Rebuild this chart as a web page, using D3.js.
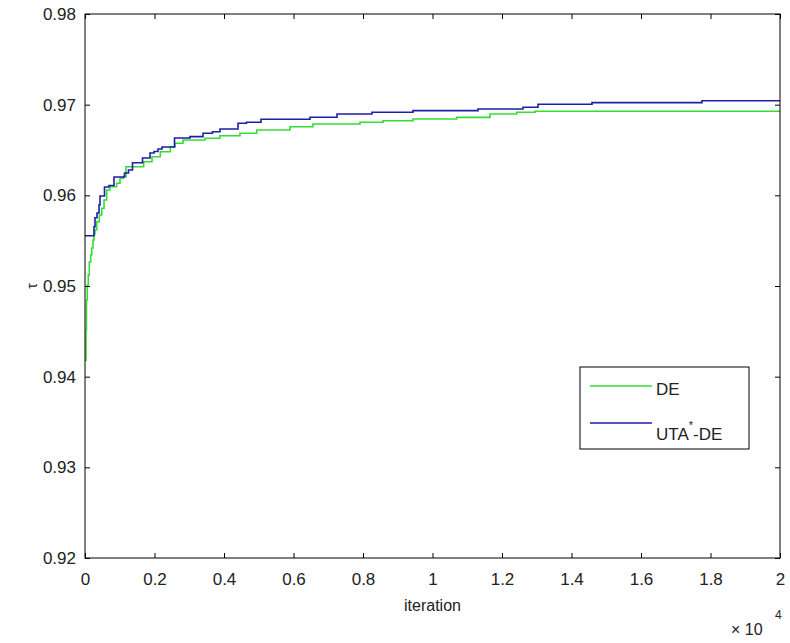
<!DOCTYPE html>
<html><head><meta charset="utf-8">
<script src="https://cdn.jsdelivr.net/npm/d3@7"></script>
<style>body{margin:0;background:#fff}</style>
</head><body>
<svg id="c" width="790" height="643"></svg>
<script>
const deIter = [0,29,43,66,95,124,164,193,230,259,288,337,412,481,547,624,719,912,1007,1102,1180,1689,1928,2167,2455,2590,2820,3453,3885,4460,4941,5899,6561,7914,8576,9439,10696,11655,12424,12950,20000];
const deTau  = [0.9418,0.94515,0.94846,0.95011,0.95121,0.95265,0.95342,0.95419,0.95507,0.95574,0.95618,0.95709,0.95783,0.95857,0.95949,0.96059,0.96095,0.96133,0.96188,0.96206,0.96316,0.96371,0.96426,0.96481,0.96536,0.96574,0.9661,0.96629,0.96658,0.96684,0.96721,0.96757,0.96787,0.96806,0.96823,0.96842,0.9686,0.96897,0.96916,0.96927,0.96927];
const utaIter = [0,259,288,345,403,432,561,691,835,1137,1252,1367,1655,1871,1986,2101,2216,2576,3022,3396,3669,3885,4403,4647,5065,6475,7252,8259,9439,11309,12604,13036,14590,17755,20000];
const utaTau  = [0.95555,0.95654,0.95753,0.95805,0.95893,0.95993,0.96092,0.96109,0.96202,0.96246,0.9628,0.9636,0.96412,0.96467,0.96483,0.96511,0.96533,0.96632,0.96647,0.96684,0.96702,0.96732,0.96795,0.96806,0.96839,0.96861,0.96897,0.96916,0.96934,0.96952,0.96971,0.97004,0.97022,0.97044,0.97044];
const xTicks = [0,2000,4000,6000,8000,10000,12000,14000,16000,18000,20000];
const xTickLabels = ["0","0.2","0.4","0.6","0.8","1","1.2","1.4","1.6","1.8","2"];
const yTicks = [0.92,0.93,0.94,0.95,0.96,0.97,0.98];
const yTickLabels = ["0.92","0.93","0.94","0.95","0.96","0.97","0.98"];
const seriesNames = ["DE","UTA*-DE"];

const svg = d3.select("#c");
const L=85, R=780, T=14, B=558;
const x = d3.scaleLinear().domain([0,20000]).range([L,R]);
const y = d3.scaleLinear().domain([0.92,0.98]).range([B,T]);
const font = "'Liberation Sans', Arial, sans-serif";
const FS = 17;

const line = d3.line().x(d=>x(d[0])).y(d=>y(d[1])).curve(d3.curveStepAfter);
const de = deIter.map((v,i)=>[v,deTau[i]]);
const uta = utaIter.map((v,i)=>[v,utaTau[i]]);
const cG = "#36dc36", cB = "#1e1ea6";
svg.append("path").attr("d",line(de)).attr("fill","none").attr("stroke",cG).attr("stroke-width",1.6);
svg.append("path").attr("d",line(uta)).attr("fill","none").attr("stroke",cB).attr("stroke-width",1.6);

// axes
const g = svg.append("g").attr("font-family",font).attr("font-size",FS);
const fmtX = d=>xTickLabels[xTicks.indexOf(d)];
const fmtY = d=>yTickLabels[yTicks.findIndex(t=>Math.abs(t-d)<1e-9)];
const axB = d3.axisBottom(x).tickValues(xTicks).tickFormat(fmtX).tickSize(-5).tickPadding(15);
const axT = d3.axisTop(x).tickValues(xTicks).tickFormat("").tickSize(-5);
const axL = d3.axisLeft(y).tickValues(yTicks).tickFormat(fmtY).tickSize(-5).tickPadding(9);
const axR = d3.axisRight(y).tickValues(yTicks).tickFormat("").tickSize(-5);
[[axB,`translate(0,${B})`],[axT,`translate(0,${T})`],[axL,`translate(${L},0)`],[axR,`translate(${R},0)`]].forEach(([a,t])=>{
  const gg = g.append("g").attr("transform",t).call(a);
  gg.select(".domain").remove();
  gg.selectAll("line").attr("stroke","#000");
  gg.selectAll("text").attr("fill","#222").attr("font-family",font).attr("font-size",FS);
});
g.append("rect").attr("x",L).attr("y",T).attr("width",R-L).attr("height",B-T).attr("fill","none").attr("stroke","#000").attr("stroke-width",1);

// labels
g.append("text").attr("x",(L+R)/2).attr("y",611).attr("text-anchor","middle").attr("fill","#222").attr("font-size",16).text("iteration");
g.append("text").attr("transform",`translate(37,${(T+B)/2}) rotate(-90)`).attr("text-anchor","middle").attr("fill","#222").attr("font-size",14).text("τ");
g.append("text").attr("x",731).attr("y",635).attr("fill","#222").attr("font-size",16).text("× 10");
g.append("text").attr("x",775).attr("y",619).attr("fill","#222").attr("font-size",12).text("4");

// legend
const lg = svg.append("g").attr("font-family",font).attr("font-size",FS);
lg.append("rect").attr("x",580).attr("y",367).attr("width",169).attr("height",82).attr("fill","#fff").attr("stroke","#000");
const cols=[cG,cB], ly=[386,423];
seriesNames.forEach((n,i)=>{
  lg.append("line").attr("x1",590).attr("x2",652).attr("y1",ly[i]).attr("y2",ly[i]).attr("stroke",cols[i]).attr("stroke-width",1.6);
});
lg.append("text").attr("x",656).attr("y",395).attr("fill","#222").text(seriesNames[0]);
const t2 = lg.append("text").attr("x",656).attr("y",440).attr("fill","#222");
t2.append("tspan").text("UTA");
t2.append("tspan").attr("dy",-11).attr("font-size",11).text("*");
t2.append("tspan").attr("dy",11).text("-DE");
</script>
</body></html>
